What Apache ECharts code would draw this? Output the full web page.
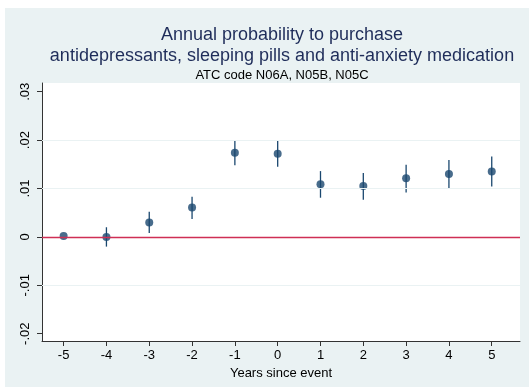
<!DOCTYPE html>
<html>
<head>
<meta charset="utf-8">
<script src="https://cdn.jsdelivr.net/npm/echarts@6/dist/echarts.min.js"></script>
<style>
  html, body { margin: 0; padding: 0; background: #ffffff; }
  #chart { width: 529px; height: 387px; }
</style>
</head>
<body>
<div id="chart"></div>
<script>
// Event-study estimates: years relative to the event
const years = [-5, -4, -3, -2, -1, 0, 1, 2, 3, 4, 5];
// Point estimates of the annual purchase probability
const estimates = [0.0002, 0.0000, 0.0030, 0.0061, 0.0174, 0.0172, 0.0109, 0.0105, 0.0121, 0.0130, 0.0135];
// 95% confidence bounds
const lower = [0.0002, -0.0020, 0.0008, 0.0037, 0.0148, 0.0145, 0.0081, 0.0077, 0.0092, 0.0100, 0.0104];
const upper = [0.0002, 0.0020, 0.0052, 0.0083, 0.0199, 0.0199, 0.0136, 0.0132, 0.0149, 0.0159, 0.0166];
// Axis ticks
const xTicks = [-5, -4, -3, -2, -1, 0, 1, 2, 3, 4, 5];
const yTicks = [-0.02, -0.01, 0, 0.01, 0.02, 0.03];
const yGridLines = [-0.01, 0.01, 0.02];

const navy = '#1a476f';
const font = '"Liberation Sans", Arial, Helvetica, sans-serif';

function fmtY(v) {
  if (Math.abs(v) < 1e-9) return '0';
  const s = v.toFixed(2);
  return s.replace(/^(-?)0\./, '$1.');
}

const chart = echarts.init(document.getElementById('chart'), null, { renderer: 'canvas' });

const option = {
  animation: false,
  backgroundColor: '#ffffff',
  graphic: [{
    type: 'rect',
    z: -10,
    silent: true,
    shape: { x: 5, y: 8, width: 524, height: 379 },
    style: { fill: '#eaf2f3' }
  }],
  title: [{
    text: 'Annual probability to purchase\nantidepressants, sleeping pills and anti-anxiety medication',
    left: 277,
    top: 20,
    textAlign: 'center',
    textStyle: { fontFamily: font, fontSize: 18, fontWeight: 'normal', color: '#1f2d5a', lineHeight: 21 }
  }, {
    text: 'ATC code N06A, N05B, N05C',
    left: 277,
    top: 63,
    textAlign: 'center',
    textStyle: { fontFamily: font, fontSize: 13, fontWeight: 'normal', color: '#000000', lineHeight: 15 }
  }],
  grid: {
    left: 42, top: 83, right: 9, bottom: 46,
    show: true, backgroundColor: '#ffffff', borderWidth: 0
  },
  xAxis: {
    type: 'value',
    min: -5.505, max: 5.66,
    name: 'Years since event',
    nameLocation: 'middle',
    nameGap: 22,
    nameTextStyle: { fontFamily: font, fontSize: 13, color: '#000000' },
    axisLine: { show: true, onZero: false, lineStyle: { color: '#333333', width: 1 } },
    axisTick: { show: true, length: 5, customValues: xTicks, lineStyle: { color: '#333333' } },
    axisLabel: { customValues: xTicks, margin: 8, fontFamily: font, fontSize: 13, color: '#000000' },
    splitLine: { show: false }
  },
  yAxis: {
    type: 'value',
    min: -0.0215, max: 0.0318,
    axisLine: { show: true, onZero: false, lineStyle: { color: '#333333', width: 1 } },
    axisTick: { show: true, length: 5, customValues: yTicks, lineStyle: { color: '#333333' } },
    axisLabel: {
      customValues: yTicks, rotate: 90, margin: 10,
      fontFamily: font, fontSize: 13, color: '#000000',
      formatter: fmtY
    },
    splitLine: { show: false }
  },
  series: [{
    // light horizontal gridlines and the red zero reference line
    type: 'line',
    data: [],
    silent: true,
    markLine: {
      symbol: 'none',
      silent: true,
      label: { show: false },
      data: yGridLines.map(v => ({ yAxis: v, lineStyle: { color: '#eaf2f3', width: 1.2, type: 'solid' } }))
        .concat([{ yAxis: 0, lineStyle: { color: '#cf2f55', width: 1.3, type: 'solid' } }])
    },
    z: 1
  }, {
    // confidence interval spikes
    type: 'custom',
    z: 3,
    data: years.map((x, i) => [x, lower[i], upper[i]]),
    renderItem: function (params, api) {
      const x = api.value(0);
      const lo = api.coord([x, api.value(1)]);
      const hi = api.coord([x, api.value(2)]);
      return {
        type: 'line',
        shape: { x1: lo[0], y1: lo[1], x2: hi[0], y2: hi[1] },
        style: { stroke: navy, lineWidth: 1.3 }
      };
    }
  }, {
    type: 'scatter',
    z: 4,
    symbol: 'circle',
    symbolSize: 8,
    itemStyle: { color: navy },
    data: years.map((x, i) => [x, estimates[i]])
  }]
};

chart.setOption(option);
</script>
</body>
</html>
